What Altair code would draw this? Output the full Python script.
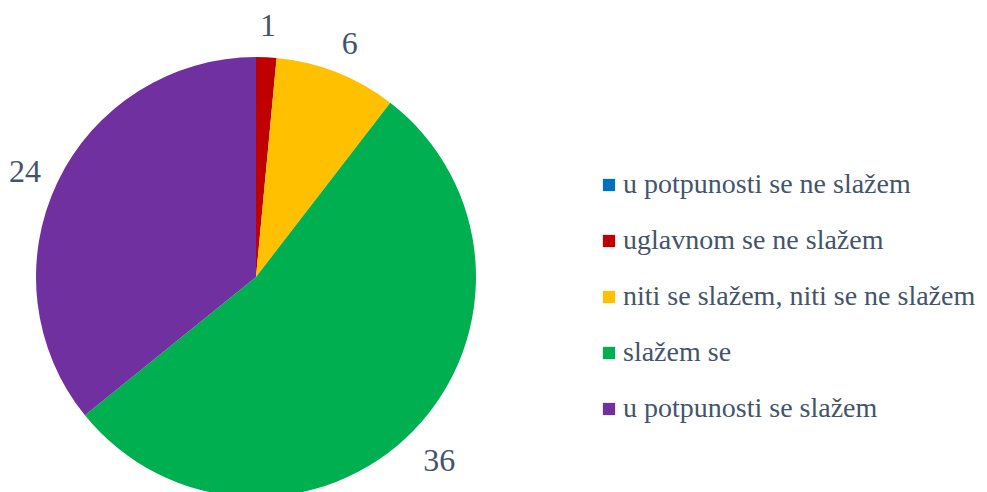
import altair as alt
import pandas as pd

categories = [
    "u potpunosti se ne slažem",
    "uglavnom se ne slažem",
    "niti se slažem, niti se ne slažem",
    "slažem se",
    "u potpunosti se slažem",
]
values = [0, 1, 6, 36, 24]
colors = ["#0070C0", "#C00000", "#FFC000", "#00B050", "#7030A0"]

df = pd.DataFrame({"cat": categories, "value": values, "idx": list(range(len(values)))})

CX, CY, R = 256, 277, 220
FONT = "Liberation Serif"
TXT = "#44546A"

base = alt.Chart(df).encode(
    theta=alt.Theta("value:Q", stack=True),
    order=alt.Order("idx:Q", sort="ascending"),
)

pie = base.mark_arc(stroke=None).encode(
    color=alt.Color(
        "cat:N",
        sort=categories,
        scale=alt.Scale(domain=categories, range=colors),
        legend=alt.Legend(title=None, orient="none", legendX=595, legendY=171),
    ),
    x=alt.value(CX),
    y=alt.value(CY),
    radius=alt.value(R),
)

labels = base.mark_text(
    font=FONT, fontSize=32, color=TXT, align="center", baseline="middle", dy=5
).encode(
    text=alt.Text("value:Q"),
    x=alt.value(CX),
    y=alt.value(CY),
    radius=alt.value(256),
).transform_filter("datum.value > 0")

chart = (
    alt.layer(pie, labels)
    .properties(width=987, height=492, autosize="none", padding=0)
    .configure_view(stroke=None)
    .configure_legend(
        symbolType="square",
        symbolSize=150,
        symbolStrokeWidth=0,
        labelFont=FONT,
        labelFontSize=28,
        labelColor=TXT,
        labelLimit=0,
        rowPadding=28,
        labelOffset=0,
    )
)

chart.save("out.html", embed_options={"renderer": "svg", "actions": False})
